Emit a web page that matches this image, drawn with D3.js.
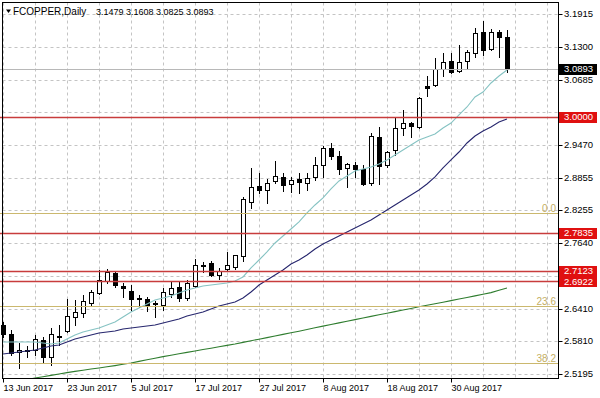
<!DOCTYPE html>
<html>
<head>
<meta charset="utf-8">
<script src="https://cdn.jsdelivr.net/npm/d3@7/dist/d3.min.js"></script>
<style>
  html, body { margin: 0; padding: 0; background: #fff; }
  svg { display: block; font-family: "Liberation Sans", Arial, sans-serif; }
</style>
</head>
<body>
<div id="chart"></div>
<script>
// daily bars, 13 Jun 2017 .. 8 Sep 2017 (index 0..63)
const open = [2.6110, 2.5942, 2.5611, 2.5634, 2.5643, 2.5830, 2.5507, 2.5910, 2.6003, 2.6264,
  2.6339, 2.6526, 2.6701, 2.6937, 2.7086, 2.6838, 2.6750, 2.6608, 2.6589, 2.6507,
  2.6483, 2.6688, 2.6825, 2.6627, 2.6838, 2.7217, 2.7261, 2.7043, 2.7149, 2.7179,
  2.7385, 2.8411, 2.8710, 2.8643, 2.8803, 2.8878, 2.8742, 2.8829, 2.8773, 2.8878,
  2.9096, 2.9419, 2.9264, 2.9040, 2.9096, 2.9022, 2.8755, 2.9613, 2.9083, 2.9376,
  2.9781, 2.9875, 2.9811, 3.0571, 3.0590, 3.0901, 3.1038, 3.0857, 3.1043, 3.1181,
  3.1585, 3.1262, 3.1585, 3.1479];
const high = [2.6166, 2.6016, 2.5774, 2.5718, 2.5923, 2.5891, 2.6054, 2.6110, 2.6595, 2.6576,
  2.6670, 2.6763, 2.7136, 2.7149, 2.7118, 2.6888, 2.6856, 2.6670, 2.6638, 2.6563,
  2.6795, 2.6918, 2.6918, 2.6950, 2.7336, 2.7291, 2.7310, 2.7168, 2.7478, 2.7416,
  2.8493, 2.9035, 2.8953, 2.8829, 2.9177, 2.8941, 2.8878, 2.8941, 2.8953, 2.9251,
  2.9451, 2.9512, 2.9358, 2.9139, 2.9158, 2.9096, 2.9688, 2.9811, 2.9363, 2.9998,
  3.0123, 2.9905, 3.0360, 3.0758, 3.1088, 3.1193, 3.1181, 3.1336, 3.1243, 3.1648,
  3.1790, 3.1629, 3.1616, 3.1608];
const low = [2.5886, 2.5550, 2.5307, 2.5512, 2.5550, 2.5425, 2.5363, 2.5736, 2.5984, 2.6110,
  2.6259, 2.6483, 2.6688, 2.6888, 2.6825, 2.6638, 2.6390, 2.6451, 2.6376, 2.6264,
  2.6390, 2.6638, 2.6563, 2.6576, 2.6813, 2.7105, 2.7024, 2.6963, 2.7123, 2.7149,
  2.7310, 2.8288, 2.8568, 2.8381, 2.8755, 2.8616, 2.8587, 2.8579, 2.8630, 2.8816,
  2.8878, 2.9203, 2.8928, 2.8691, 2.8878, 2.8723, 2.8723, 2.8742, 2.9065, 2.9283,
  2.9656, 2.9613, 2.9781, 3.0384, 3.0571, 3.0758, 3.0819, 3.0838, 3.0901, 3.1118,
  3.1150, 3.1243, 3.1118, 3.0825];
const close = [2.5942, 2.5592, 2.5643, 2.5652, 2.5848, 2.5518, 2.5936, 2.5891, 2.6283, 2.6358,
  2.6563, 2.6731, 2.6950, 2.7105, 2.6856, 2.6795, 2.6595, 2.6589, 2.6464, 2.6520,
  2.6731, 2.6795, 2.6627, 2.6899, 2.7230, 2.7230, 2.7043, 2.7123, 2.7230, 2.7411,
  2.8456, 2.8691, 2.8643, 2.8766, 2.8891, 2.8723, 2.8816, 2.8766, 2.8859, 2.9096,
  2.9419, 2.9264, 2.9016, 2.9109, 2.9016, 2.8742, 2.9638, 2.9078, 2.9333, 2.9793,
  2.9875, 2.9824, 3.0347, 3.0539, 3.0883, 3.1025, 3.0838, 3.1025, 3.1211, 3.1555,
  3.1243, 3.1573, 3.1491, 3.0893];

// moving averages
const maFast = [2.5792, 2.5792, 2.5792, 2.5792, 2.5792, 2.5774, 2.5755, 2.5774, 2.5848, 2.5923,
  2.5979, 2.6016, 2.6054, 2.6110, 2.6166, 2.6259, 2.6352, 2.6427, 2.6501, 2.6576,
  2.6613, 2.6651, 2.6707, 2.6763, 2.6800, 2.6838, 2.6856, 2.6875, 2.6894, 2.6931,
  2.7006, 2.7174, 2.7323, 2.7473, 2.7641, 2.7771, 2.7902, 2.8033, 2.8201, 2.8350,
  2.8481, 2.8649, 2.8798, 2.8891, 2.8985, 2.9022, 2.9059, 2.9115, 2.9190, 2.9283,
  2.9376, 2.9470, 2.9563, 2.9619, 2.9675, 2.9787, 2.9880, 3.0030, 3.0179, 3.0366,
  3.0459, 3.0627, 3.0758, 3.0870];
const maMid = [2.5568, 2.5587, 2.5606, 2.5624, 2.5643, 2.5680, 2.5718, 2.5736, 2.5792, 2.5848,
  2.5886, 2.5923, 2.5960, 2.5979, 2.5998, 2.6035, 2.6054, 2.6072, 2.6091, 2.6110,
  2.6147, 2.6184, 2.6222, 2.6278, 2.6315, 2.6352, 2.6408, 2.6464, 2.6501, 2.6539,
  2.6613, 2.6725, 2.6856, 2.6950, 2.7043, 2.7136, 2.7248, 2.7323, 2.7416, 2.7528,
  2.7621, 2.7696, 2.7771, 2.7845, 2.7920, 2.7995, 2.8070, 2.8163, 2.8257, 2.8350,
  2.8443, 2.8536, 2.8630, 2.8742, 2.8873, 2.9041, 2.9190, 2.9339, 2.9507, 2.9638,
  2.9731, 2.9806, 2.9899, 2.9955];
const maSlow = [2.5008, 2.5036, 2.5064, 2.5092, 2.5120, 2.5144, 2.5170, 2.5195, 2.5221, 2.5244,
  2.5266, 2.5287, 2.5307, 2.5330, 2.5352, 2.5377, 2.5401, 2.5431, 2.5461, 2.5490,
  2.5520, 2.5546, 2.5572, 2.5598, 2.5625, 2.5651, 2.5677, 2.5703, 2.5729, 2.5755,
  2.5785, 2.5815, 2.5845, 2.5874, 2.5904, 2.5934, 2.5964, 2.5994, 2.6025, 2.6057,
  2.6089, 2.6120, 2.6150, 2.6180, 2.6210, 2.6240, 2.6270, 2.6300, 2.6329, 2.6359,
  2.6389, 2.6419, 2.6449, 2.6478, 2.6506, 2.6534, 2.6564, 2.6595, 2.6624, 2.6654,
  2.6684, 2.6714, 2.6757, 2.6800];

const priceTicks = [3.1915, 3.1300, 3.0685, 3.0078, 2.9470, 2.8855, 2.8255, 2.7640, 2.7025, 2.6410, 2.5810, 2.5195];
const dateLabels = ['13 Jun 2017', '23 Jun 2017', '5 Jul 2017', '17 Jul 2017', '27 Jul 2017', '8 Aug 2017', '18 Aug 2017', '30 Aug 2017'];
const levels = [3.0000, 2.7835, 2.7123, 2.6922];
const fibValues = [2.8205, 2.6464, 2.5395];
const fibNames = ['0.0', '23.6', '38.2'];
const lastPrice = 3.0893;

const width = 600, height = 398;
const plot = {left: 2.5, right: 558.5, top: 2.5, bottom: 378.5};

const svg = d3.select('#chart').append('svg')
  .attr('width', width)
  .attr('height', height);

svg.append('rect').attr('width', width).attr('height', height).attr('fill', '#fff');

const x = d3.scaleLinear().domain([0, open.length - 1]).range([3, 3 + 8 * (open.length - 1)]);
const y = d3.scaleLinear().domain([2.5195, 3.1915]).range([374, 14]);
const px = v => Math.round(v) + 0.5;

svg.append('clipPath').attr('id', 'clip')
  .append('rect')
  .attr('x', 0).attr('y', plot.top)
  .attr('width', plot.right).attr('height', plot.bottom - plot.top);

const chart = svg.append('g').attr('clip-path', 'url(#clip)');

// dashed grid
const gridX = d3.range(0, 69, 4).filter(i => x(i) < plot.right);
chart.append('g').selectAll('line')
  .data(gridX)
  .enter().append('line')
  .attr('x1', d => px(x(d))).attr('x2', d => px(x(d)))
  .attr('y1', plot.top).attr('y2', plot.bottom)
  .attr('stroke', '#c4c4c4')
  .attr('stroke-dasharray', '3,3');

chart.append('g').selectAll('line')
  .data(priceTicks)
  .enter().append('line')
  .attr('x1', plot.left).attr('x2', plot.right)
  .attr('y1', d => px(y(d))).attr('y2', d => px(y(d)))
  .attr('stroke', '#c4c4c4')
  .attr('stroke-dasharray', '3,3');

// candles
const bars = chart.append('g').selectAll('g')
  .data(d3.range(open.length))
  .enter().append('g');

bars.append('line')
  .attr('x1', i => px(x(i))).attr('x2', i => px(x(i)))
  .attr('y1', i => Math.round(y(high[i]))).attr('y2', i => Math.round(y(low[i])) + 1)
  .attr('stroke', '#000');

bars.append('rect')
  .attr('x', i => Math.round(x(i)) - 1.5)
  .attr('y', i => px(Math.min(y(open[i]), y(close[i]))))
  .attr('width', 4)
  .attr('height', i => Math.max(1, Math.round(Math.abs(y(open[i]) - y(close[i])))))
  .attr('fill', i => close[i] >= open[i] ? '#fff' : '#000')
  .attr('stroke', '#000');

// moving averages
const line = d3.line().x((d, i) => x(i)).y(d => y(d));
[[maSlow, '#2f7d2f'], [maMid, '#27276e'], [maFast, '#86c3c3']].forEach(([s, c]) => {
  chart.append('path')
    .attr('d', line(s))
    .attr('fill', 'none')
    .attr('stroke', c)
    .attr('stroke-width', 1.1);
});

// fibo levels
chart.append('g').selectAll('line')
  .data(fibValues)
  .enter().append('line')
  .attr('x1', 0).attr('x2', plot.right)
  .attr('y1', d => px(y(d))).attr('y2', d => px(y(d)))
  .attr('stroke', '#cbb86e');

chart.append('g').selectAll('text')
  .data(fibValues)
  .enter().append('text')
  .attr('x', 556).attr('y', d => Math.round(y(d)) - 1)
  .attr('text-anchor', 'end')
  .attr('font-size', 10)
  .attr('fill', '#c3ae62')
  .text((d, i) => fibNames[i]);

// horizontal levels
chart.append('g').selectAll('line')
  .data(levels)
  .enter().append('line')
  .attr('x1', 0).attr('x2', plot.right)
  .attr('y1', d => px(y(d))).attr('y2', d => px(y(d)))
  .attr('stroke', '#c83c3c')
  .attr('stroke-width', 1.4);

chart.append('line')
  .attr('x1', 0).attr('x2', plot.right)
  .attr('y1', px(y(lastPrice))).attr('y2', px(y(lastPrice)))
  .attr('stroke', '#b8b8b8');

// frame
svg.append('rect')
  .attr('x', plot.left).attr('y', plot.top)
  .attr('width', plot.right - plot.left).attr('height', plot.bottom - plot.top)
  .attr('fill', 'none').attr('stroke', '#000');

// price axis (labels hidden under a price box are left out)
const boxValues = levels.concat([lastPrice]);
const yAxis = svg.append('g');
yAxis.selectAll('line')
  .data(priceTicks)
  .enter().append('line')
  .attr('x1', plot.right).attr('x2', plot.right + 4)
  .attr('y1', d => px(y(d))).attr('y2', d => px(y(d)))
  .attr('stroke', '#000');
yAxis.selectAll('text')
  .data(priceTicks.filter(t => boxValues.every(b => Math.abs(y(b) - y(t)) > 9)))
  .enter().append('text')
  .attr('x', 564).attr('y', d => y(d))
  .attr('dy', '0.35em')
  .attr('font-size', 9.5)
  .attr('fill', '#000')
  .text(d => d.toFixed(4));

// price boxes
const boxes = levels.map(v => ({v: v, bg: '#e01010'})).concat([{v: lastPrice, bg: '#000'}]);
const box = svg.append('g').selectAll('g')
  .data(boxes)
  .enter().append('g');
box.append('rect')
  .attr('x', 559).attr('y', d => Math.round(y(d.v)) - 5)
  .attr('width', 38).attr('height', 11)
  .attr('fill', d => d.bg);
box.append('text')
  .attr('x', 564).attr('y', d => y(d.v))
  .attr('dy', '0.35em')
  .attr('font-size', 9.5)
  .attr('fill', '#fff')
  .text(d => d.v.toFixed(4));

// date axis
const xAxis = svg.append('g');
xAxis.selectAll('line')
  .data(dateLabels)
  .enter().append('line')
  .attr('x1', (d, i) => px(x(i * 8))).attr('x2', (d, i) => px(x(i * 8)))
  .attr('y1', plot.bottom).attr('y2', plot.bottom + 4)
  .attr('stroke', '#000');
xAxis.selectAll('text')
  .data(dateLabels)
  .enter().append('text')
  .attr('x', (d, i) => x(i * 8) + 0.5).attr('y', 391)
  .attr('font-size', 9)
  .attr('fill', '#000')
  .text(d => d);

// title
svg.append('path').attr('d', 'M6,9.5 L11,9.5 L8.5,13 Z').attr('fill', '#000');
svg.append('text').attr('x', 13).attr('y', 15).attr('font-size', 10).text('FCOPPER,Daily');
svg.append('text').attr('x', 96).attr('y', 15).attr('font-size', 9)
  .text([open, high, low, close].map(s => s[s.length - 1].toFixed(4)).join(' '));
</script>
</body>
</html>
